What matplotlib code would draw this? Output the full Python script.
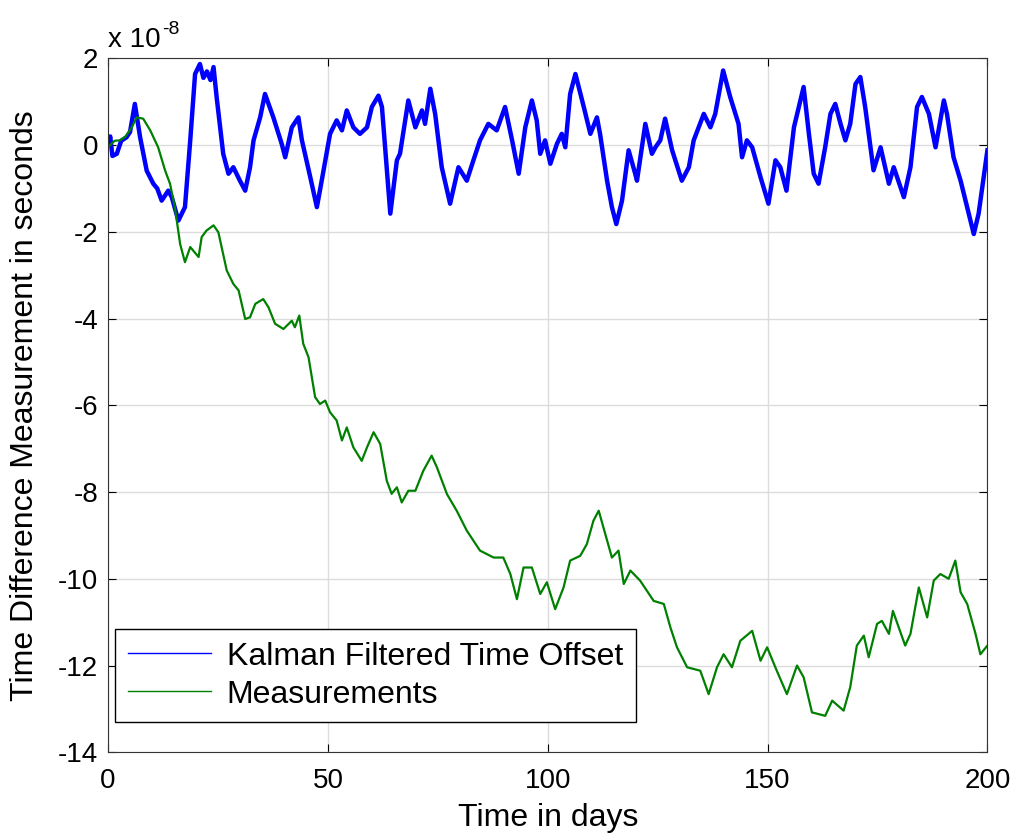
import matplotlib
matplotlib.use("Agg")
from matplotlib import pyplot as plt

plt.rcParams["font.family"] = ["Liberation Sans", "DejaVu Sans"]
plt.rcParams["axes.unicode_minus"] = False

# values, y in units of 1e-8 s
kalman_days = [0, 0.5, 1, 2, 3, 4.2, 5, 6.1, 7.3, 8.8, 10.3, 11.2, 12.2, 13.7, 14.5, 16,
               17.5, 18.7, 19.8, 20.9, 21.7, 22.5, 23.3, 24, 24.7, 26.2, 27.4, 28.5,
               30, 31.2, 32.3, 33.1, 34.6, 35.7, 37.6, 39.5, 40.3, 41.8, 43.3, 44.1,
               46, 47.5, 48.6, 50.5, 52, 53.2, 54.3, 55.8, 57.3, 58.9, 60, 61.5, 62.3,
               64.2, 65.7, 66.4, 68.3, 69.9, 71.4, 72.1, 73.3, 74.4, 75.9, 77.8, 79.7,
               81.6, 83.1, 84.6, 86.5, 88.4, 90.3, 91.9, 93.4, 94.9, 96.4, 97.5, 98.3,
               99.4, 100.6, 102.1, 103.2, 104, 105.1, 106.3, 108.2, 109.7, 111.2, 111.9,
               113.5, 114.6, 115.6, 116.9, 118.4, 119.9, 120.3, 122.2, 123.7, 124.5,
               125.6, 126.7, 128.3, 130.5, 132.1, 133.2, 135.5, 137, 138.1, 139.9,
               141.5, 143.4, 144.2, 145.3, 146.5, 148.4, 150.2, 151.8, 152.9, 154.3,
               156, 157.1, 158.2, 159.4, 160.5, 161.6, 163.1, 164.3, 165.4, 166.6,
               167.7, 168.8, 170, 171.1, 172.2, 174.1, 175.7, 177.6, 178.7, 181, 182.5,
               184, 185.1, 186.7, 188.2, 190.1, 190.8, 192.3, 193.9, 195.4, 196.9, 198, 200]
kalman_vals = [0.03, 0.2, -0.25, -0.2, 0.1, 0.18, 0.3, 0.95, 0.18, -0.59, -0.89, -1.0, -1.28,
               -1.05, -1.2, -1.74, -1.43, 0.11, 1.64, 1.87, 1.55, 1.7, 1.5, 1.8, 1.11, -0.2,
               -0.66, -0.51, -0.82, -1.05, -0.51, 0.11, 0.64, 1.18, 0.64, 0.03, -0.28, 0.41,
               0.64, 0.11, -0.74, -1.43, -0.82, 0.26, 0.57, 0.34, 0.8, 0.41, 0.26, 0.41,
               0.88, 1.14, 0.88, -1.58, -0.35, -0.2, 1.03, 0.41, 0.8, 0.49, 1.3, 0.72,
               -0.51, -1.35, -0.51, -0.82, -0.35, 0.11, 0.49, 0.34, 0.88, 0.11, -0.66,
               0.41, 1.03, 0.57, -0.2, 0.11, -0.43, 0.03, 0.26, -0.05, 1.18, 1.64, 0.88,
               0.26, 0.64, 0.26, -0.82, -1.43, -1.82, -1.28, -0.12, -0.66, -0.82, 0.49,
               -0.2, -0.05, 0.11, 0.61, -0.12, -0.82, -0.51, 0.11, 0.72, 0.41, 0.72, 1.72,
               1.11, 0.49, -0.28, 0.11, -0.05, -0.74, -1.35, -0.35, -0.51, -1.05, 0.41,
               0.88, 1.34, 0.26, -0.66, -0.89, -0.05, 0.72, 0.95, 0.49, 0.11, 0.49, 1.41,
               1.57, 0.88, -0.58, -0.05, -0.89, -0.51, -1.2, -0.51, 0.88, 1.11, 0.72,
               -0.05, 1.03, 0.72, -0.28, -0.82, -1.43, -2.05, -1.58, -0.12]

meas_days = [0, 1.5, 2.7, 4, 5.4, 6.5, 8, 9.6, 11.4, 13, 14.1, 15.2, 16.4, 17.5, 18.7,
             20.6, 21.3, 22.4, 24, 25.1, 27, 28.5, 29.7, 31.2, 32.3, 33.5, 35.3, 36.5,
             38, 39.9, 41.8, 42.5, 43.5, 44.4, 45.6, 47.1, 48.2, 49.4, 50.5, 52, 53.2,
             54.3, 55.8, 57.7, 58.9, 60.4, 61.9, 63.4, 64.5, 65.7, 66.8, 68.3, 69.9,
             71.7, 73.6, 74.8, 77.1, 79.3, 81.6, 84.6, 87.7, 89.9, 91.5, 93, 94.5, 96.4,
             98.3, 99.8, 101.7, 103.6, 105.1, 107.4, 108.9, 110.4, 111.6, 113.1, 114.6,
             116.1, 117.3, 118.8, 121, 124.1, 126.4, 127.9, 129.4, 131.7, 134.7, 136.6,
             138.5, 140, 141.9, 143.8, 146.5, 148.4, 149.9, 152.1, 154.4, 156.7, 158.2,
             160.1, 163.1, 164.7, 167.3, 168.8, 170.3, 171.9, 173, 174.9, 176, 177.6,
             178.5, 181.3, 182.5, 184.4, 186.3, 187.8, 189.3, 191.2, 192.7, 193.9,
             195.4, 197.3, 198.4, 200]
meas_vals = [-0.05, 0.1, 0.11, 0.2, 0.41, 0.64, 0.61, 0.34, -0.05, -0.59, -0.89, -1.43,
             -2.28, -2.7, -2.35, -2.58, -2.12, -1.97, -1.85, -2.01, -2.89, -3.2, -3.35,
             -4.01, -3.97, -3.66, -3.55, -3.74, -4.12, -4.24, -4.05, -4.2, -3.93, -4.58,
             -4.89, -5.81, -5.97, -5.89, -6.16, -6.35, -6.81, -6.51, -6.97, -7.28, -6.97,
             -6.62, -6.89, -7.74, -8.04, -7.89, -8.24, -7.97, -7.97, -7.51, -7.16, -7.43,
             -8.05, -8.43, -8.89, -9.35, -9.51, -9.51, -9.89, -10.47, -9.74, -9.74,
             -10.35, -10.08, -10.7, -10.2, -9.58, -9.47, -9.2, -8.66, -8.43, -8.97,
             -9.51, -9.35, -10.12, -9.81, -10.04, -10.51, -10.58, -11.12, -11.58, -12.04,
             -12.12, -12.66, -12.04, -11.74, -12.04, -11.43, -11.2, -11.89, -11.58,
             -12.12, -12.66, -12.0, -12.27, -13.08, -13.16, -12.81, -13.04, -12.5, -11.54,
             -11.31, -11.81, -11.04, -10.97, -11.27, -10.74, -11.54, -11.27, -10.2,
             -10.89, -10.04, -9.89, -10.0, -9.58, -10.31, -10.58, -11.27, -11.74, -11.54]

y_ticks = [-14, -12, -10, -8, -6, -4, -2, 0, 2]
x_ticks = [0, 50, 100, 150, 200]

fig = plt.figure(figsize=(10.19, 8.34), dpi=100)
ax = fig.add_axes([0.106, 0.098, 0.863, 0.832])

ax.plot(kalman_days, kalman_vals, color=(0, 0, 1), lw=3.2, label="Kalman Filtered Time Offset")
ax.plot(meas_days, meas_vals, color=(0, 0.5, 0), lw=1.6, label="Measurements")

ax.set_xlim(0, 200)
ax.set_ylim(-14, 2)
ax.set_xticks(x_ticks)
ax.set_yticks(y_ticks)
ax.set_yticklabels([str(t) for t in y_ticks])
ax.grid(True, color="#dcdcdc", lw=1)
ax.set_axisbelow(True)
ax.tick_params(direction="in", top=True, right=True, length=6, labelsize=20)
ax.tick_params(axis="x", pad=11)
ax.tick_params(axis="y", pad=7)
for s in ax.spines.values():
    s.set_color("#333333")

ax.set_xlabel("Time in days", fontsize=23, labelpad=7)
ax.set_ylabel("Time Difference Measurement in seconds", fontsize=23, labelpad=13)

# MATLAB style exponent label
base = ax.text(0.0, 1.008, "x 10", transform=ax.transAxes,
               fontsize=20, ha="left", va="bottom")
ax.annotate("-8", xy=(1, 1), xycoords=base, xytext=(1, 4), textcoords="offset points",
            fontsize=14, ha="left", va="top")

leg = ax.legend(loc="lower left", bbox_to_anchor=(0.008, 0.043), borderaxespad=0,
                fontsize=23, fancybox=False, framealpha=1, handlelength=2.6,
                handletextpad=0.5, borderpad=0.4, labelspacing=0.25)
leg.get_frame().set_edgecolor("black")
leg.get_frame().set_linewidth(1)
for line in leg.get_lines():
    line.set_linewidth(1)

plt.savefig("out.png", dpi=100)
